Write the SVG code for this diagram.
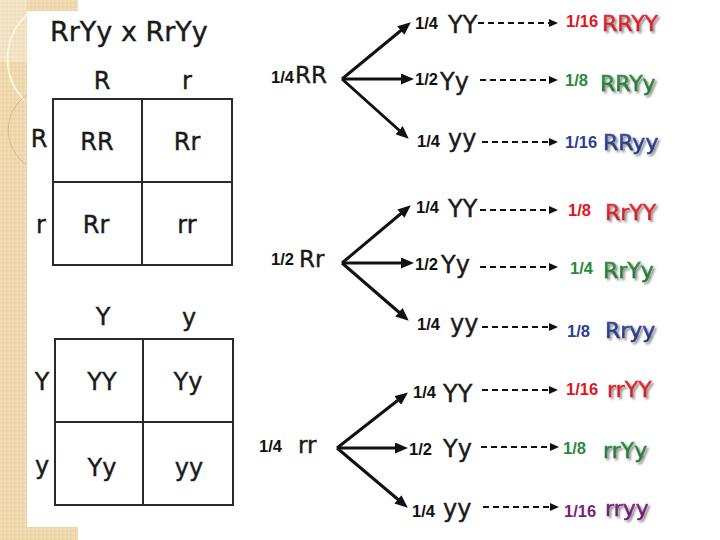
<svg xmlns="http://www.w3.org/2000/svg" width="720" height="540" viewBox="0 0 720 540">
<defs>
<pattern id="tex" width="4" height="4" patternUnits="userSpaceOnUse">
<rect width="4" height="4" fill="#EED8AC"/>
<circle cx="1" cy="1" r="0.8" fill="#F5E6C8"/>
<circle cx="3" cy="3" r="0.8" fill="#E6CD9C"/>
</pattern>
<pattern id="tex2" width="4" height="4" patternUnits="userSpaceOnUse">
<rect width="4" height="4" fill="#F3E3C2"/>
<circle cx="1" cy="1" r="0.8" fill="#F9EEDA"/>
<circle cx="3" cy="3" r="0.8" fill="#ECD9B2"/>
</pattern>
<marker id="ah" markerUnits="userSpaceOnUse" markerWidth="13" markerHeight="11" refX="8" refY="5.5" orient="auto">
<path d="M0,0 L13,5.5 L0,11 Z" fill="#111"/>
</marker>
<marker id="ahs" markerUnits="userSpaceOnUse" markerWidth="9" markerHeight="8" refX="6" refY="4" orient="auto">
<path d="M0,0 L9,4 L0,8 Z" fill="#111"/>
</marker>
<filter id="sh" x="-10%" y="-30%" width="130%" height="170%">
<feDropShadow dx="2" dy="2" stdDeviation="0.8" flood-color="#666" flood-opacity="0.75"/>
</filter>
<linearGradient id="gr" x1="0" y1="0" x2="0" y2="1"><stop offset="0" stop-color="#E8363E"/><stop offset="1" stop-color="#CC1018"/></linearGradient>
<linearGradient id="gg" x1="0" y1="0" x2="0" y2="1"><stop offset="0" stop-color="#369446"/><stop offset="1" stop-color="#1F742E"/></linearGradient>
<linearGradient id="gb" x1="0" y1="0" x2="0" y2="1"><stop offset="0" stop-color="#3A50A2"/><stop offset="1" stop-color="#213385"/></linearGradient>
<linearGradient id="gp" x1="0" y1="0" x2="0" y2="1"><stop offset="0" stop-color="#8A3892"/><stop offset="1" stop-color="#691169"/></linearGradient>
</defs>
<style>
.t{font-family:"DejaVu Sans","Verdana",sans-serif;fill:#1a1a1a;stroke:#1a1a1a;stroke-width:0.4}
.big{font-size:24px}
.gen{font-size:23px}
.fr{font-family:"Liberation Sans","Arial",sans-serif;font-weight:bold;font-size:16.5px;fill:#111}
.res{font-family:"DejaVu Sans","Verdana",sans-serif;font-size:22px;stroke-width:0.5;filter:url(#sh)}
.red{fill:#E3141C}.grn{fill:#2A8A3A}.blu{fill:#2B3F91}.pur{fill:#7E1C7E}
.grid{fill:none;stroke:#2a2a2a;stroke-width:2}
.sol{stroke:#111;stroke-width:3;fill:none;marker-end:url(#ah)}
.dsh{stroke:#111;stroke-width:2.2;stroke-dasharray:6 4;fill:none;marker-end:url(#ahs)}
</style>
<rect width="720" height="540" fill="#fff"/>
<g id="background">
<rect x="0" y="0" width="27" height="540" fill="url(#tex)"/>
<rect x="0" y="0" width="78" height="11" fill="url(#tex)"/>
<rect x="0" y="527" width="78" height="13" fill="url(#tex)"/>
<rect x="0" y="0" width="27" height="62" fill="url(#tex2)"/>
<path d="M30,12 A60,60 0 0 0 24,100" fill="none" stroke="#FBF4E4" stroke-width="2"/>
<path d="M27,95 A42,42 0 0 0 27,165" fill="none" stroke="#D6BC8C" stroke-width="1"/>
</g>
<g id="title"><text class="t" x="50" y="41" font-size="27px">RrYy x RrYy</text></g>
<g id="punnett-R">
<rect class="grid" x="53" y="99" width="179" height="166"/>
<line class="grid" x1="142" y1="99" x2="142" y2="265"/>
<line class="grid" x1="53" y1="182" x2="232" y2="182" stroke="#444" stroke-width="2.5"/>
<g text-anchor="middle">
<text class="t big" x="102" y="89">R</text>
<text class="t big" x="187" y="89">r</text>
<text class="t big" x="39" y="147">R</text>
<text class="t big" x="41" y="233">r</text>
<text class="t big" x="97" y="150">RR</text>
<text class="t big" x="187" y="150">Rr</text>
<text class="t big" x="96" y="233">Rr</text>
<text class="t big" x="187" y="233">rr</text>
</g>
</g>
<g id="punnett-Y">
<rect class="grid" x="55" y="339" width="178" height="166"/>
<line class="grid" x1="143" y1="339" x2="143" y2="505"/>
<line class="grid" x1="55" y1="422" x2="233" y2="422"/>
<g text-anchor="middle">
<text class="t big" x="103" y="325">Y</text>
<text class="t big" x="189" y="326">y</text>
<text class="t big" x="42" y="390">Y</text>
<text class="t big" x="42" y="474">y</text>
<text class="t big" x="102" y="390">YY</text>
<text class="t big" x="188" y="390">Yy</text>
<text class="t big" x="102" y="476">Yy</text>
<text class="t big" x="189" y="476">yy</text>
</g>
</g>
<g id="connectors">
<line class="sol" x1="342" y1="79" x2="407" y2="25.5"/>
<line class="sol" x1="342" y1="79" x2="409" y2="79"/>
<line class="sol" x1="342" y1="79" x2="405" y2="135.5"/>
<line class="sol" x1="342" y1="263" x2="407" y2="208.5"/>
<line class="sol" x1="342" y1="263" x2="409" y2="263"/>
<line class="sol" x1="342" y1="263" x2="405" y2="317.5"/>
<line class="sol" x1="337" y1="448" x2="404" y2="395.5"/>
<line class="sol" x1="337" y1="448" x2="403" y2="448"/>
<line class="sol" x1="337" y1="448" x2="404" y2="504.5"/>
<line class="dsh" x1="478" y1="23" x2="555" y2="23"/>
<line class="dsh" x1="480" y1="80" x2="555" y2="80"/>
<line class="dsh" x1="482" y1="142" x2="555" y2="142"/>
<line class="dsh" x1="480" y1="210" x2="555" y2="210"/>
<line class="dsh" x1="480" y1="267" x2="555" y2="267"/>
<line class="dsh" x1="482" y1="327" x2="555" y2="327"/>
<line class="dsh" x1="482" y1="390" x2="555" y2="390"/>
<line class="dsh" x1="481" y1="447" x2="556" y2="447"/>
<line class="dsh" x1="483" y1="507" x2="556" y2="507"/>
</g>
<g id="node-RR"><text class="fr" x="271" y="83">1/4</text><text class="t gen" x="295" y="83">RR</text></g>
<g id="node-RR-YY"><text class="fr" x="415" y="29">1/4</text><text class="t big" x="448" y="33">YY</text></g>
<g id="node-RR-Yy"><text class="fr" x="415" y="85">1/2</text><text class="t big" x="440" y="90">Yy</text></g>
<g id="node-RR-yy"><text class="fr" x="417" y="147">1/4</text><text class="t big" x="448" y="147">yy</text></g>
<g id="res-RRYY"><text class="fr red" x="566" y="27">1/16</text><text class="res" fill="url(#gr)" stroke="url(#gr)" x="602" y="31">RRYY</text></g>
<g id="res-RRYy"><text class="fr grn" x="565" y="86">1/8</text><text class="res" fill="url(#gg)" stroke="url(#gg)" x="600" y="91">RRYy</text></g>
<g id="res-RRyy"><text class="fr blu" x="565" y="148">1/16</text><text class="res" fill="url(#gb)" stroke="url(#gb)" x="603" y="150">RRyy</text></g>
<g id="node-Rr"><text class="fr" x="271" y="265">1/2</text><text class="t gen" x="299" y="267">Rr</text></g>
<g id="node-Rr-YY"><text class="fr" x="416" y="213">1/4</text><text class="t big" x="448" y="217">YY</text></g>
<g id="node-Rr-Yy"><text class="fr" x="415" y="270">1/2</text><text class="t big" x="441" y="273">Yy</text></g>
<g id="node-Rr-yy"><text class="fr" x="417" y="330">1/4</text><text class="t big" x="450" y="332">yy</text></g>
<g id="res-RrYY"><text class="fr red" x="568" y="216">1/8</text><text class="res" fill="url(#gr)" stroke="url(#gr)" x="605" y="220">RrYY</text></g>
<g id="res-RrYy"><text class="fr grn" x="570" y="274">1/4</text><text class="res" fill="url(#gg)" stroke="url(#gg)" x="603" y="278">RrYy</text></g>
<g id="res-Rryy"><text class="fr blu" x="567" y="337">1/8</text><text class="res" fill="url(#gb)" stroke="url(#gb)" x="605" y="338">Rryy</text></g>
<g id="node-rr"><text class="fr" x="259" y="452">1/4</text><text class="t gen" x="298" y="453">rr</text></g>
<g id="node-rr-YY"><text class="fr" x="413" y="398">1/4</text><text class="t big" x="443" y="402">YY</text></g>
<g id="node-rr-Yy"><text class="fr" x="409" y="455">1/2</text><text class="t big" x="443" y="457">Yy</text></g>
<g id="node-rr-yy"><text class="fr" x="412" y="517">1/4</text><text class="t big" x="443" y="517">yy</text></g>
<g id="res-rrYY"><text class="fr red" x="566" y="395">1/16</text><text class="res" fill="url(#gr)" stroke="url(#gr)" x="607" y="397">rrYY</text></g>
<g id="res-rrYy"><text class="fr grn" x="563" y="454">1/8</text><text class="res" fill="url(#gg)" stroke="url(#gg)" x="603" y="458">rrYy</text></g>
<g id="res-rryy"><text class="fr pur" x="564" y="517">1/16</text><text class="res" fill="url(#gp)" stroke="url(#gp)" x="605" y="516">rryy</text></g>
</svg>
